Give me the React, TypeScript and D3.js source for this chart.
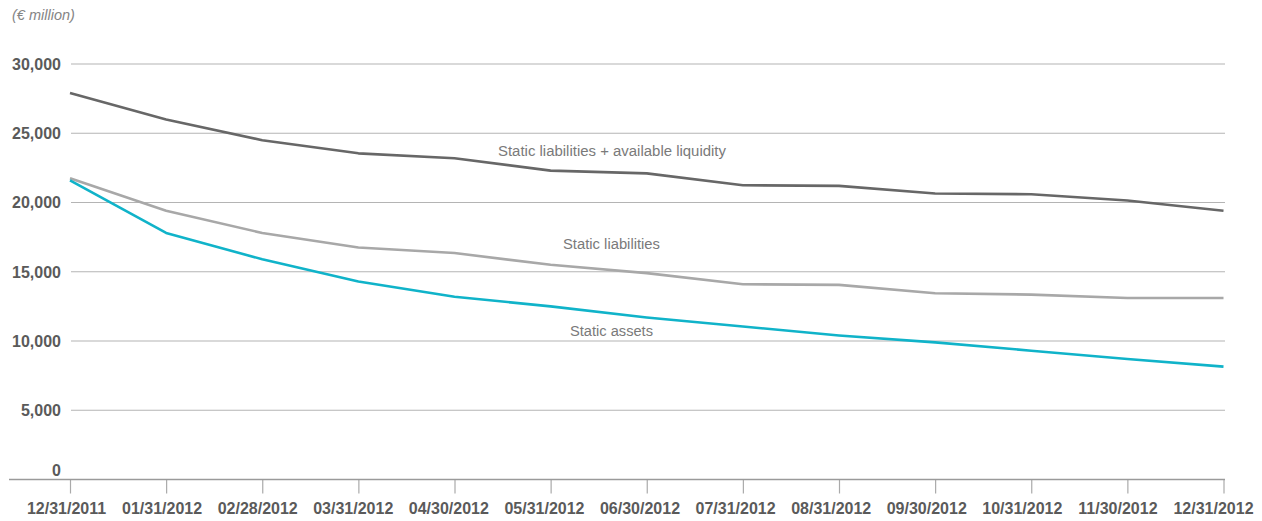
import { axisBottom, line, scaleLinear, scalePoint, select } from 'd3';
import { useEffect, useRef } from 'react';

const dates = [
  '12/31/2011',
  '01/31/2012',
  '02/28/2012',
  '03/31/2012',
  '04/30/2012',
  '05/31/2012',
  '06/30/2012',
  '07/31/2012',
  '08/31/2012',
  '09/30/2012',
  '10/31/2012',
  '11/30/2012',
  '12/31/2012'
];

// static liabilities + available liquidity
const liabPlusLiquidity = [
  27900, 26000, 24500, 23550, 23200, 22300, 22100, 21250, 21200, 20650, 20600,
  20150, 19400
];

// static liabilities
const staticLiabilities = [
  21750, 19400, 17800, 16750, 16350, 15500, 14900, 14100, 14050, 13450, 13350,
  13100, 13100
];

// static assets
const staticAssets = [
  21600, 17800, 15900, 14300, 13200, 12500, 11700, 11050, 10400, 9900, 9300,
  8700, 8150
];

const yTicks = [0, 5000, 10000, 15000, 20000, 25000, 30000];

const W = 1262;
const H = 521;

function App(): JSX.Element {
  const svgRef = useRef<SVGSVGElement | null>(null);

  useEffect(() => {
    if (svgRef.current) svgRef.current.innerHTML = '';
    const svg = select(svgRef.current);
    svg.attr('width', W).attr('height', H);

    const x = scalePoint<string>().domain(dates).range([70, 1223.5]);
    // labels sit a little left of their ticks, drifting towards the right end
    const xLabel = scalePoint<string>().domain(dates).range([66, 1213]);
    const y = scaleLinear().domain([0, 30000]).range([479.5, 64]);

    // unit label
    svg
      .append('text')
      .attr('x', 12)
      .attr('y', 20)
      .text('(€ million)')
      .attr('fill', '#858585')
      .attr('font-size', '14.5px')
      .attr('font-style', 'italic')
      .attr('font-family', '"Liberation Sans", Arial, sans-serif');

    // gridlines
    yTicks
      .filter((t) => t > 0)
      .forEach((t) => {
        svg
          .append('line')
          .attr('x1', 71)
          .attr('x2', 1225)
          .attr('y1', y(t))
          .attr('y2', y(t))
          .attr('stroke', '#b4b4b4')
          .attr('stroke-width', 1.2);
      });

    // y labels
    yTicks.forEach((t) => {
      svg
        .append('text')
        .attr('x', 61)
        .attr('y', y(t))
        .attr('dy', t === 0 ? '-0.25em' : '0.36em')
        .text(t === 0 ? '0' : t.toLocaleString('en-US'))
        .style('text-anchor', 'end')
        .attr('fill', '#5a5a5a')
        .attr('font-size', '16px')
        .attr('font-weight', 'bold')
        .attr('font-family', '"Liberation Sans", Arial, sans-serif');
    });

    // x axis
    const xAxis = svg
      .append('g')
      .attr('transform', `translate(0,${y(0)})`)
      .call(axisBottom(x).tickSize(14).tickSizeOuter(0));
    xAxis.select('.domain').remove();
    xAxis
      .append('line')
      .attr('x1', 9)
      .attr('x2', 1225)
      .attr('stroke', '#9a9a9a')
      .attr('stroke-width', 1.5);
    xAxis.selectAll('.tick line').attr('stroke', '#aaaaaa').attr('stroke-width', 1.2);
    xAxis
      .selectAll<SVGTextElement, string>('.tick text')
      .attr('x', (d) => (xLabel(d) as number) - (x(d) as number))
      .attr('y', 29)
      .attr('dy', '0.36em')
      .attr('fill', '#5a5a5a')
      .attr('font-size', '16px')
      .attr('font-weight', 'bold')
      .attr('font-family', '"Liberation Sans", Arial, sans-serif');

    const lineGen = line<number>()
      .x((_d, i) => x(dates[i]) as number)
      .y((d) => y(d));

    const series = [
      { values: staticLiabilities, color: '#a8a8a8' },
      { values: staticAssets, color: '#10b3c9' },
      { values: liabPlusLiquidity, color: '#676767' }
    ];

    series.forEach((s) => {
      svg
        .append('path')
        .datum(s.values)
        .attr('d', lineGen)
        .attr('fill', 'none')
        .attr('stroke', s.color)
        .attr('stroke-width', 2.6)
        .attr('stroke-linejoin', 'round');
    });

    // series labels
    const labels = [
      { text: 'Static liabilities + available liquidity', x: 498, y: 150, w: 228 },
      { text: 'Static liabilities', x: 563, y: 243, w: 97 },
      { text: 'Static assets', x: 570, y: 330, w: 83 }
    ];
    labels.forEach((l) => {
      svg
        .append('text')
        .attr('x', l.x)
        .attr('y', l.y)
        .attr('dy', '0.36em')
        .text(l.text)
        .attr('textLength', l.w)
        .attr('lengthAdjust', 'spacingAndGlyphs')
        .attr('fill', '#7a7a7a')
        .attr('font-size', '15.5px')
        .attr('font-family', '"Liberation Sans Narrow", "Liberation Sans", Arial, sans-serif');
    });
  }, []);

  return (
    <div style={{ position: 'absolute', left: 0, top: 0 }}>
      <svg ref={svgRef} style={{ display: 'block' }} />
    </div>
  );
}

export default App;
